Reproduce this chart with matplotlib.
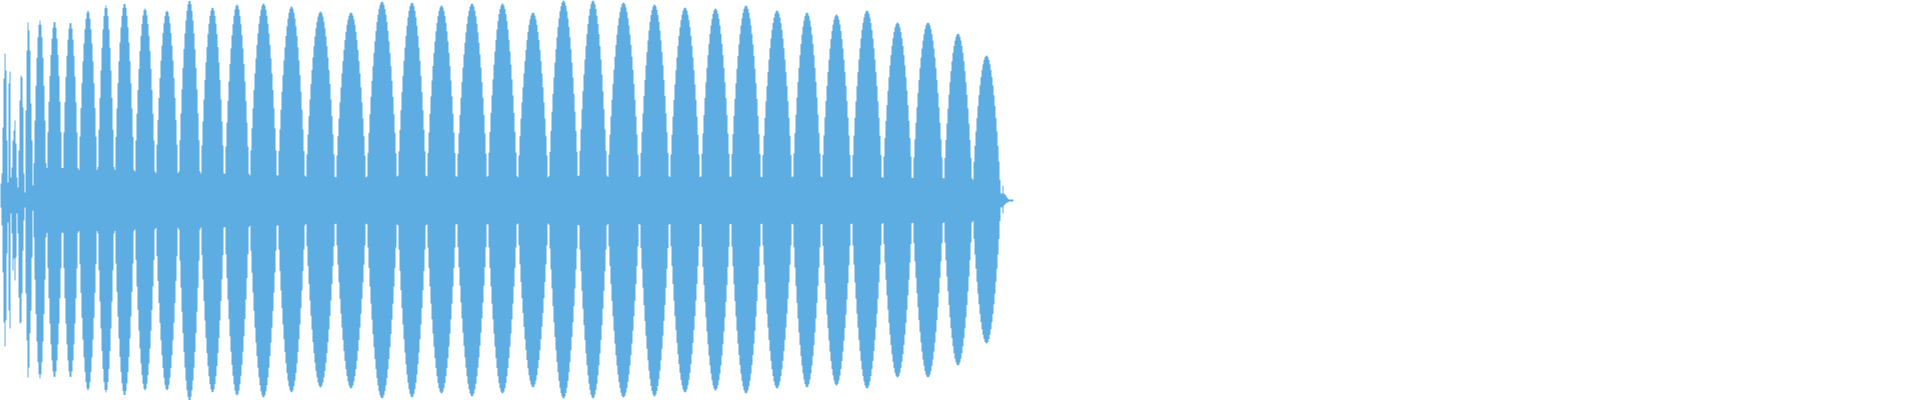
import numpy as np
import matplotlib
matplotlib.use("Agg")
import matplotlib.pyplot as plt

# ---- data (amplitudes in pixels, centre line = 0) ----
# onset: one value per pixel column, columns 0..32
onset_top = [17, 27, 73, 122, 147, 130, 60, 18, 117, 129, 23, 33, 60, 70, 80, 57,
             23, 13, 50, 100, 125, 123, 93, 27, 8, 90, 150, 178, 170, 150, 97, 60, 15]
onset_bottom = [7, 25, 72, 122, 146, 120, 53, 22, 110, 128, 13, 33, 70, 58, 80, 57,
                13, 33, 97, 123, 122, 93, 50, 20, 7, 93, 140, 177, 167, 133, 110, 57, 10]

# tonal bursts (lobes): start column, end column, peak above, peak below
lobe_start = [33, 46, 62, 78, 97, 114, 134, 155, 178, 200, 224, 249, 277, 305, 335,
              366, 397, 426, 456, 487, 517, 548, 578, 607, 639, 669, 700, 730, 761,
              792, 821, 851, 882, 912, 943, 972]
lobe_end = [46, 62, 78, 97, 114, 134, 155, 178, 200, 224, 249, 277, 305, 335, 366,
            397, 426, 456, 487, 517, 548, 578, 607, 639, 669, 700, 730, 761, 792,
            821, 851, 882, 912, 943, 972, 1000]
lobe_peak_top = [180, 179, 178, 190, 195, 197, 192, 190, 200, 193, 196, 197, 194, 189,
                 188, 199, 198, 195, 197, 197, 188, 200, 200, 198, 196, 193, 192, 195,
                 190, 188, 186, 190, 178, 178, 167, 145]
lobe_peak_bottom = [178, 177, 177, 190, 192, 195, 190, 190, 200, 192, 195, 197, 192, 187,
                    188, 198, 197, 193, 196, 193, 187, 198, 198, 197, 196, 192, 190, 193,
                    188, 187, 185, 188, 177, 177, 165, 143]
dip_floor = 9

# decay tail: columns 1000..1012
tail_top = [7, 7, 15, 7, 6, 5, 3, 2, 1, 1, 1, 1, 1]
tail_bottom = [7, 7, 13, 5, 4, 3, 2, 2, 1, 1, 1, 1, 1]

COLOR = "#5dade2"
LOBE_EXPONENT = 0.85  # envelope fullness (style)

# ---- assemble per-column envelope ----
top = list(onset_top)
bot = list(onset_bottom)
for s, e, pt, pb in zip(lobe_start, lobe_end, lobe_peak_top, lobe_peak_bottom):
    cols = np.arange(s, e)
    t = (cols + 0.5 - s) / (e - s)
    shape = np.sin(np.pi * t) ** LOBE_EXPONENT
    top.extend(dip_floor + (pt - dip_floor) * shape)
    bot.extend(dip_floor + (pb - dip_floor) * shape)
top.extend(tail_top)
bot.extend(tail_bottom)
top = np.array(top, dtype=float)
bot = np.array(bot, dtype=float)

n = len(top)
edges = np.arange(n + 1)
top_e = np.append(top, top[-1])
bot_e = np.append(bot, bot[-1])

fig = plt.figure(figsize=(19.2, 4.0), dpi=100, facecolor="white")
ax = fig.add_axes([0, 0, 1, 1])
ax.fill_between(edges, -bot_e, top_e, step="post", color=COLOR,
                linewidth=0, antialiased=False)
ax.set_xlim(0, 1920)
ax.set_ylim(-200, 200)
ax.axis("off")
fig.savefig("out.png", dpi=100, facecolor="white")
